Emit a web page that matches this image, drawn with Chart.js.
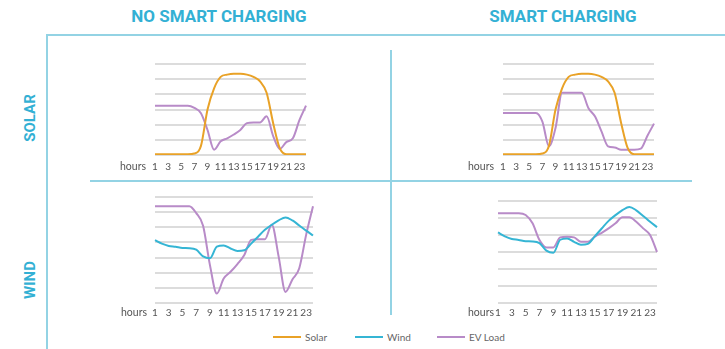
<!DOCTYPE html>
<html>
<head>
<meta charset="utf-8">
<script src="https://cdn.jsdelivr.net/npm/chart.js@4/dist/chart.umd.min.js"></script>
<style>
  html, body { margin: 0; padding: 0; background: #fff; }
  body { width: 725px; height: 349px; position: relative; overflow: hidden; font-family: Lato, "Open Sans", sans-serif; }
  .rule { position: absolute; background: #93d3e4; }
  .head { position: absolute; color: #33b0d4; font-family: Roboto, "Open Sans", sans-serif; font-weight: 700; font-size: 17px; white-space: nowrap; transform: translateX(-50%); }
  .side { position: absolute; color: #33b0d4; font-family: Roboto, "Open Sans", sans-serif; font-weight: 700; font-size: 15px; white-space: nowrap; transform: translate(-50%, -50%) rotate(-90deg); }
  canvas { position: absolute; }
  .legend { position: absolute; top: 331px; font-size: 10px; color: #666; white-space: nowrap; }
  .legend span.sw { display: inline-block; width: 28px; height: 2px; vertical-align: middle; margin-right: 4px; position: relative; top: -1px; }
</style>
</head>
<body>

<!-- frame -->
<div class="rule" style="left:46px; top:34px; width:679px; height:2px;"></div>
<div class="rule" style="left:46px; top:34px; width:2px; height:315px;"></div>
<div class="rule" style="left:90px; top:180px; width:602px; height:2px;"></div>
<div class="rule" style="left:390px; top:50px; width:2px; height:265px;"></div>

<div class="head" style="left:219px; top:6px;">NO SMART CHARGING</div>
<div class="head" style="left:563px; top:6px;">SMART CHARGING</div>
<div class="side" style="left:30px; top:118px;">SOLAR</div>
<div class="side" style="left:30px; top:280px;">WIND</div>

<canvas id="solarNoSmart"></canvas>
<canvas id="solarSmart"></canvas>
<canvas id="windNoSmart"></canvas>
<canvas id="windSmart"></canvas>

<div class="legend" style="left:273px;"><span class="sw" style="background:#e9a227"></span>Solar</div>
<div class="legend" style="left:355px;"><span class="sw" style="background:#35b5d4"></span>Wind</div>
<div class="legend" style="left:437px;"><span class="sw" style="background:#b88bc8"></span>EV Load</div>

<script>
// hours of the day
const hours = ['1','2','3','4','5','6','7','8','9','10','11','12','13','14','15','16','17','18','19','20','21','22','23','24'];
const shownHours = ['1','3','5','7','9','11','13','15','17','19','21','23'];

// generation profiles
const solar = [0.05, 0.05, 0.05, 0.05, 0.05, 0.05, 0.1, 0.6, 3.0, 4.4, 5.15, 5.3, 5.35, 5.35, 5.3, 5.15, 4.85, 4.1, 2.1, 0.45, 0.05, 0.05, 0.05, 0.05];
const wind = [4.15, 3.92, 3.77, 3.71, 3.63, 3.62, 3.52, 3.08, 2.95, 3.72, 3.8, 3.6, 3.43, 3.48, 3.92, 4.38, 4.83, 5.17, 5.46, 5.65, 5.45, 5.12, 4.78, 4.46];

// EV load profiles
const evSolarNoSmart = [3.25, 3.25, 3.25, 3.25, 3.25, 3.25, 3.1, 2.75, 1.65, 0.35, 0.9, 1.1, 1.35, 1.65, 2.1, 2.15, 2.15, 2.55, 1.25, 0.4, 0.85, 1.1, 2.3, 3.25];
const evSolarSmart = [2.77, 2.77, 2.77, 2.77, 2.77, 2.77, 2.2, 0.57, 1.78, 4.1, 4.1, 4.1, 4.1, 3.1, 2.55, 1.56, 0.57, 0.5, 0.35, 0.35, 0.35, 0.42, 1.27, 2.07];
const evWindNoSmart = [6.39, 6.39, 6.39, 6.39, 6.39, 6.39, 5.94, 5.1, 2.5, 0.62, 1.62, 2.06, 2.57, 3.17, 4.17, 4.21, 4.21, 5.17, 3.06, 0.73, 1.55, 2.3, 4.5, 6.39];
const evWindSmart = [5.28, 5.28, 5.28, 5.28, 5.18, 4.69, 3.7, 3.27, 3.27, 3.86, 3.9, 3.86, 3.6, 3.6, 3.9, 4.13, 4.39, 4.69, 5.04, 5.04, 4.78, 4.39, 4.0, 3.0];

const SOLAR_COLOR = '#e9a227';
const WIND_COLOR = '#35b5d4';
const EV_COLOR = '#b88bc8';
const TICK_FONT = 'Lato, "Open Sans", sans-serif';

// draws the "hours" caption to the left of the x tick labels
const hoursCaption = {
    id: 'hoursCaption',
    afterDraw(chart, args, opts) {
        const ctx = chart.ctx;
        const xs = chart.scales.x;
        ctx.save();
        ctx.font = '10.5px ' + TICK_FONT;
        ctx.fillStyle = '#555';
        ctx.textAlign = 'right';
        ctx.textBaseline = 'middle';
        ctx.fillText('hours', chart.chartArea.left - opts.gap, xs.top + opts.labelGap + 6);
        ctx.restore();
    }
};

function line(data, color) {
    return {
        data: data,
        borderColor: color,
        borderWidth: 2,
        pointRadius: 0,
        fill: false,
        cubicInterpolationMode: 'monotone'
    };
}

function makePanel(id, area, yMax, gap, labelGap, datasets) {
    const canvas = document.getElementById(id);
    const padL = 50, padR = 8, padT = 6, axisH = 20;
    canvas.width = area.right - area.left + padL + padR;
    canvas.height = area.bottom - area.top + padT + axisH;
    canvas.style.left = (area.left - padL) + 'px';
    canvas.style.top = (area.top - padT) + 'px';

    return new Chart(canvas, {
        type: 'line',
        data: { labels: hours, datasets: datasets },
        options: {
            responsive: false,
            animation: false,
            layout: { padding: { left: padL, right: padR, top: padT, bottom: 0 } },
            plugins: {
                legend: { display: false },
                tooltip: { enabled: false },
                hoursCaption: { gap: gap, labelGap: labelGap }
            },
            scales: {
                x: {
                    offset: false,
                    grid: { display: false, drawTicks: false },
                    border: { display: false },
                    afterFit: (scale) => { scale.height = axisH; },
                    ticks: {
                        autoSkip: false,
                        maxRotation: 0,
                        padding: labelGap,
                        color: '#555',
                        font: { size: 10, family: TICK_FONT },
                        callback: (v, i) => shownHours.includes(hours[i]) ? hours[i] : ''
                    }
                },
                y: {
                    min: 0,
                    max: yMax,
                    afterFit: (scale) => { scale.width = 0; },
                    grid: { color: '#dcdcdc', lineWidth: 2, drawTicks: false },
                    border: { display: false },
                    ticks: { display: false, stepSize: 1 }
                }
            }
        },
        plugins: [hoursCaption]
    });
}

makePanel('solarNoSmart', { left: 155, right: 306, top: 64, bottom: 155 }, 6, 9, 6,
    [line(solar, SOLAR_COLOR), line(evSolarNoSmart, EV_COLOR)]);
makePanel('solarSmart', { left: 503, right: 654, top: 64, bottom: 155 }, 6, 9, 6,
    [line(solar, SOLAR_COLOR), line(evSolarSmart, EV_COLOR)]);
makePanel('windNoSmart', { left: 155, right: 313, top: 197, bottom: 303 }, 7, 8, 4,
    [line(wind, WIND_COLOR), line(evWindNoSmart, EV_COLOR)]);
makePanel('windSmart', { left: 498, right: 657, top: 201, bottom: 303 }, 6, 4, 4,
    [line(wind, WIND_COLOR), line(evWindSmart, EV_COLOR)]);
</script>
</body>
</html>
